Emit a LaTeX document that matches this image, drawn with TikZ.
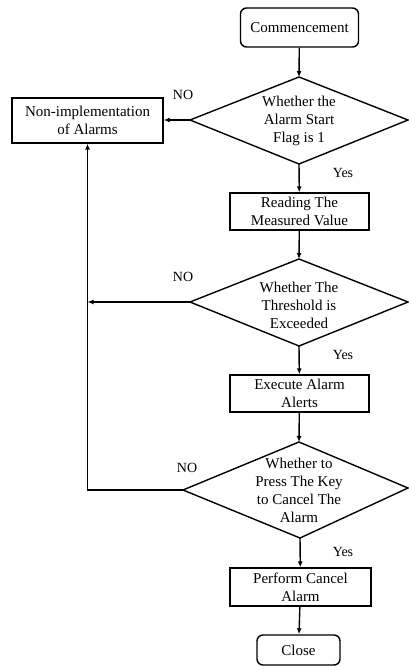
\documentclass[tikz,border=0pt]{standalone}
\usepackage{fontspec}
\setmainfont{Liberation Serif}
\newfontfamily\tnr{Liberation Serif}
\usetikzlibrary{arrows.meta}
\begin{document}
\begin{tikzpicture}[x=1pt,y=-1pt,
  every node/.style={font=\tnr\fontsize{15}{18}\selectfont},
  line/.style={line width=1.4pt, line join=miter},
  arr/.style={line, -{Latex[length=6pt,width=5pt]}},
  term/.style={draw, line width=1.4pt, rounded corners=6pt, inner sep=0pt, align=center},
  proc/.style={draw, line width=1.4pt, inner sep=0pt, align=center},
  txt/.style={inner sep=0pt, align=center},
  lbl/.style={inner sep=0pt, font=\tnr\fontsize{14}{16}\selectfont}]
\useasboundingbox (0,0) rectangle (408,666);
% terminals and processes
\node[term, minimum width=118pt, minimum height=39pt] (start) at (299.5,27.5) {Commencement};
\node[proc, minimum width=139pt, minimum height=37pt] (read) at (299.5,211.5) {Reading The\\Measured Value};
\node[proc, minimum width=139pt, minimum height=37pt] (exec) at (299.5,393.5) {Execute Alarm\\Alerts};
\node[proc, minimum width=141pt, minimum height=38pt] (perf) at (300.5,587) {Perform Cancel\\Alarm};
\node[term, minimum width=83pt, minimum height=30pt] (close) at (298.5,650) {Close};
\node[proc, minimum width=151pt, minimum height=45pt] (non) at (87.5,120.5) {Non-implementation\\of Alarms};
% diamonds
\coordinate (d1t) at (299,77); \coordinate (d1r) at (408,120);
\coordinate (d1b) at (299,164); \coordinate (d1l) at (190,120);
\coordinate (d2t) at (299,259); \coordinate (d2r) at (408,302);
\coordinate (d2b) at (299,346); \coordinate (d2l) at (190,302);
\coordinate (d3t) at (299,442); \coordinate (d3r) at (408,488);
\coordinate (d3b) at (300,538); \coordinate (d3l) at (183,490);
\draw[line] (d1t) -- (d1r) -- (d1b) -- (d1l) -- cycle;
\draw[line] (d2t) -- (d2r) -- (d2b) -- (d2l) -- cycle;
\draw[line] (d3t) -- (d3r) -- (d3b) -- (d3l) -- cycle;
\node[txt] (d1) at (299,121) {Whether the\\Alarm Start\\Flag is 1};
\node[txt] (d2) at (299,305) {Whether The\\Threshold is\\Exceeded};
\node[txt] (d3) at (299,490) {Whether to\\Press The Key\\to Cancel The\\Alarm};
% main flow
\draw[arr] (start) -- (d1t);
\draw[arr] (d1b) -- (read);
\draw[arr] (read) -- (d2t);
\draw[arr] (d2b) -- (exec);
\draw[arr] (exec) -- (d3t);
\draw[arr] (d3b) -- (perf);
\draw[arr] (perf) -- (close);
% NO branches
\draw[arr] (d1l) -- (non.east |- d1l);
\draw[arr] (d2l) -- (non.south |- d2l);
\draw[arr] (d3l) -| (non.south);
% labels
\node[lbl] (no1) at (183,95) {NO};
\node[lbl] (no2) at (183,277) {NO};
\node[lbl] (no3) at (187,468) {NO};
\node[lbl] (y1) at (343,173) {Yes};
\node[lbl] (y2) at (343,355) {Yes};
\node[lbl] (y3) at (343,552) {Yes};
\end{tikzpicture}
\end{document}
